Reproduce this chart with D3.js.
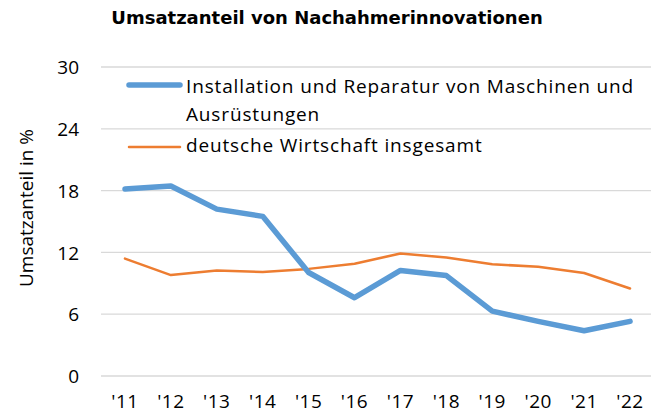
<!DOCTYPE html>
<html>
<head>
<meta charset="utf-8">
<script src="https://cdn.jsdelivr.net/npm/d3@7"></script>
<style>
  body { margin: 0; background: white; }
  text { font-family: "Open Sans", "Liberation Sans", Arial, sans-serif; fill: #000; }
</style>
</head>
<body>
<div id="container"></div>
<script>
let w = 652;
let h = 416;

// data
let years = ["'11", "'12", "'13", "'14", "'15", "'16", "'17", "'18", "'19", "'20", "'21", "'22"];
let reparatur = [18.15, 18.45, 16.2, 15.5, 10.05, 7.6, 10.25, 9.75, 6.3, 5.3, 4.4, 5.3];
let wirtschaft = [11.4, 9.8, 10.25, 10.1, 10.4, 10.9, 11.9, 11.5, 10.85, 10.6, 10.0, 8.5];
let yTicks = [0, 6, 12, 18, 24, 30];
let seriesNames = ["Installation und Reparatur von Maschinen und", "Ausrüstungen", "deutsche Wirtschaft insgesamt"];

let viz = d3.select("#container")
  .append("svg")
  .attr("width", w)
  .attr("height", h)
  .style("background-color", "white");

// title
viz.append("text")
  .attr("x", 327)
  .attr("y", 24)
  .attr("text-anchor", "middle")
  .style("font-family", "'DejaVu Sans', Verdana, sans-serif")
  .style("font-weight", "bold")
  .style("font-size", "18px")
  .text("Umsatzanteil von Nachahmerinnovationen");

let xScale = d3.scaleBand().domain(years).range([102, 653]);
let yScale = d3.scaleLinear().domain([0, 30]).range([376, 67]);

// gridlines
viz.append("g").selectAll("line").data(yTicks).enter()
  .append("line")
  .attr("x1", 101)
  .attr("x2", 651)
  .attr("y1", d => yScale(d))
  .attr("y2", d => yScale(d))
  .attr("stroke", "#d9d9d9")
  .attr("stroke-width", 1.3);

// y axis
let yAxis = d3.axisLeft(yScale).tickValues(yTicks).tickSize(0).tickPadding(0);
let yAxisGroup = viz.append("g").attr("transform", "translate(79, 0)").call(yAxis);
yAxisGroup.select(".domain").remove();
yAxisGroup.selectAll("text")
  .style("font-family", "'Open Sans', sans-serif")
  .style("font-size", "19px")
  .attr("dy", "0.35em");

// x axis
let xAxis = d3.axisBottom(xScale).tickSize(0).tickPadding(0);
let xAxisGroup = viz.append("g").attr("transform", "translate(0, 394)").call(xAxis);
xAxisGroup.select(".domain").remove();
xAxisGroup.selectAll("text")
  .style("font-family", "'Open Sans', sans-serif")
  .style("font-size", "19px")
  .style("letter-spacing", "0.5px")
  .attr("dy", "0.71em");

// y axis title
viz.append("text")
  .attr("transform", "translate(33, 208) rotate(-90)")
  .attr("text-anchor", "middle")
  .style("font-size", "19px")
  .text("Umsatzanteil in %");

let line = d3.line()
  .x((d, i) => xScale(years[i]) + xScale.bandwidth() / 2)
  .y(d => yScale(d));

viz.append("path")
  .datum(wirtschaft)
  .attr("d", line)
  .attr("fill", "none")
  .attr("stroke", "#ed7d31")
  .attr("stroke-width", 2.5)
  .attr("stroke-linejoin", "round")
  .attr("stroke-linecap", "round");

viz.append("path")
  .datum(reparatur)
  .attr("d", line)
  .attr("fill", "none")
  .attr("stroke", "#5b9bd5")
  .attr("stroke-width", 5.5)
  .attr("stroke-linejoin", "round")
  .attr("stroke-linecap", "round");

// legend
let legend = viz.append("g").style("font-size", "19px").style("letter-spacing", "0.85px");
legend.append("line")
  .attr("x1", 129).attr("x2", 180).attr("y1", 85).attr("y2", 85)
  .attr("stroke", "#5b9bd5").attr("stroke-width", 5.5).attr("stroke-linecap", "round");
legend.append("text").attr("x", 186).attr("y", 93).text(seriesNames[0]);
legend.append("text").attr("x", 186).attr("y", 121).text(seriesNames[1]);
legend.append("line")
  .attr("x1", 129).attr("x2", 180).attr("y1", 147).attr("y2", 147)
  .attr("stroke", "#ed7d31").attr("stroke-width", 2.5).attr("stroke-linecap", "round");
legend.append("text").attr("x", 186).attr("y", 152).text(seriesNames[2]);
</script>
</body>
</html>
